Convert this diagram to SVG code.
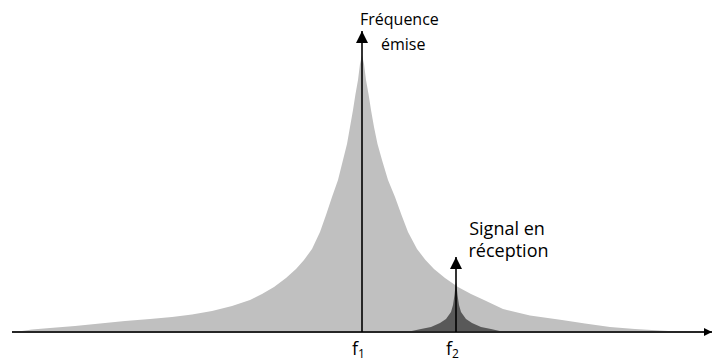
<svg xmlns="http://www.w3.org/2000/svg" width="712" height="362" viewBox="0 0 712 362">
  <style>
    .lbl { font-family: "Open Sans", "Noto Sans", "Liberation Sans", sans-serif; fill: #000; }
    .top { font-size: 16px; }
    .rec { font-size: 18px; }
    .fq { font-size: 18px; }
    .sub { font-size: 12px; }
    .ax { stroke: #262626; stroke-width: 2; fill: none; }
    .vl { stroke: #000; stroke-width: 1.6; fill: none; }
  </style>
  <defs>
    <marker id="ah" viewBox="0 0 10 10" refX="10" refY="5" markerWidth="12" markerHeight="14" markerUnits="userSpaceOnUse" orient="auto">
      <path d="M0,0 L10,5 L0,10 Z" fill="#000"/>
    </marker>
    <marker id="ahx" viewBox="0 0 10 10" refX="10" refY="5" markerWidth="8" markerHeight="12" markerUnits="userSpaceOnUse" orient="auto">
      <path d="M0,0 L10,5 L0,10 Z" fill="#000"/>
    </marker>
  </defs>

  <g id="emission-spectrum">
    <path fill="#c0c0c0" d="M15,332 L32,329.5 L50,328 L75,326 L100,323.5 L125,321 L150,319 L172,317 L192,314.5 L212,311 L232,306 L250,300 L262,294 L274,287 L286,278 L296,269 L304,260 L312,249 L320,232 L326,215 L332,197 L338,180 L343,160 L347,144 L350,127 L353,110 L355.5,94 L358,80 L360,64 L362,55 L364,64 L366,80 L368.5,94 L371,110 L374,127 L377.5,144 L382,160 L388,180 L395,197 L401.5,215 L408,232 L417,249 L425.5,260 L434,269 L445,278 L458,287 L471,294 L484,300 L503,309 L530,315.5 L562,320 L585,323.5 L610,327 L635,329 L660,330.5 L685,332 Z"/>
  </g>

  <g id="reception-spectrum">
    <path fill="#595959" d="M407,332 L421,329 L431,327 L440,323 L446,319 L451,312 L453,305 L454.5,295 L455.5,285 L456,282 L456.5,285 L457.5,295 L459,305 L461,312 L466,319 L472,323 L481,327 L491,329 L504,332 Z"/>
  </g>

  <g id="connectors">
    <line class="ax" x1="12" y1="332" x2="712" y2="332" marker-end="url(#ahx)"/>
    <line class="vl" x1="362" y1="332" x2="362" y2="31" marker-end="url(#ah)"/>
    <line class="vl" x1="456" y1="332" x2="456" y2="257" marker-end="url(#ah)"/>
  </g>

  <g id="label-emise">
    <text class="lbl top" x="360" y="25">Fréquence</text>
    <text class="lbl top" x="381" y="50">émise</text>
  </g>

  <g id="label-reception">
    <text class="lbl rec" x="507" y="235" text-anchor="middle">Signal en</text>
    <text class="lbl rec" x="508.5" y="257" text-anchor="middle">réception</text>
  </g>

  <g id="label-f1">
    <text class="lbl fq" x="352" y="355">f<tspan class="sub" dy="3">1</tspan></text>
  </g>
  <g id="label-f2">
    <text class="lbl fq" x="446" y="355">f<tspan class="sub" dy="3">2</tspan></text>
  </g>
</svg>
